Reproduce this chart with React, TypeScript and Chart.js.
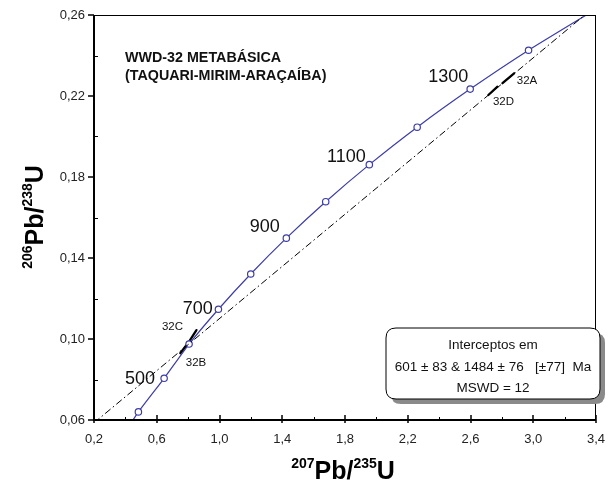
import { useEffect, useRef } from 'react';
import { Chart, registerables } from 'chart.js';
Chart.register(...registerables);

// Concordia curve (ages in Ma)
const concordiaAges = [300, 400, 500, 600, 700, 800, 900, 1000, 1100, 1200, 1300, 1400, 1500];
const concordiaX = [0.347, 0.483, 0.647, 0.806, 0.993, 1.199, 1.426, 1.677, 1.955, 2.26, 2.598, 2.97, 3.381];
const concordiaY = [0.0476, 0.064, 0.0806, 0.0975, 0.1147, 0.1321, 0.1498, 0.1678, 0.1861, 0.2046, 0.2234, 0.2426, 0.262];
const concordiaMarked = [false, true, true, true, true, true, true, true, true, true, true, true, false];

// Discordia line
const discordiaX = [0.2, 3.4];
const discordiaY = [0.0586, 0.2646];

// Data error ellipses (drawn as long thin marks: start / end)
const sampleNames = ['32A', '32B', '32C', '32D'];
const sampleX1 = [2.804, 0.75, 0.8, 2.714];
const sampleY1 = [0.2263, 0.093, 0.098, 0.2205];
const sampleX2 = [2.878, 0.79, 0.853, 2.772];
const sampleY2 = [0.2312, 0.097, 0.1044, 0.2246];
const sampleLabelX = [2.96, 0.85, 0.70, 2.81];
const sampleLabelY = [0.2274, 0.088, 0.106, 0.217];

// Age labels
const ageLabels = ['500', '700', '900', '1100', '1300'];
const ageLabelX = [0.493, 0.862, 1.288, 1.809, 2.458];
const ageLabelY = [0.0802, 0.1148, 0.1553, 0.1899, 0.2294];

// Axis ticks
const xMajorTicks = [0.2, 0.6, 1.0, 1.4, 1.8, 2.2, 2.6, 3.0, 3.4];
const xMinorTicks = [0.4, 0.8, 1.2, 1.6, 2.0, 2.4, 2.8, 3.2];
const yMajorTicks = [0.06, 0.1, 0.14, 0.18, 0.22, 0.26];
const yMinorTicks = [0.08, 0.12, 0.16, 0.2, 0.24];

const titleLines = ['WWD-32 METABÁSICA', '(TAQUARI-MIRIM-ARAÇAÍBA)'];
const boxLines = ['Interceptos em', '601 ± 83 & 1484 ± 76   [±77]  Ma', 'MSWD = 12'];

const FONT = '"Liberation Sans", Arial, sans-serif';
const BLUE = '#3c3ca8';

const decorPlugin = {
  id: 'decor',
  afterDraw(chart: any) {
    const ctx = chart.ctx;
    const xs = chart.scales.x;
    const ys = chart.scales.y;
    const a = chart.chartArea;
    ctx.save();
    // borders
    ctx.strokeStyle = '#000';
    ctx.lineWidth = 1;
    ctx.beginPath();
    ctx.moveTo(a.left, a.top + 0.5);
    ctx.lineTo(a.right, a.top + 0.5);
    ctx.moveTo(a.right - 0.5, a.top);
    ctx.lineTo(a.right - 0.5, a.bottom);
    ctx.stroke();
    ctx.lineWidth = 2;
    ctx.beginPath();
    ctx.moveTo(a.left, a.top);
    ctx.lineTo(a.left, a.bottom);
    ctx.lineTo(a.right, a.bottom);
    ctx.stroke();
    // ticks
    ctx.lineWidth = 1.5;
    ctx.beginPath();
    xMajorTicks.forEach((v) => {
      const px = Math.round(xs.getPixelForValue(v));
      ctx.moveTo(px, a.bottom + 3);
      ctx.lineTo(px, a.bottom - 5);
    });
    yMajorTicks.forEach((v) => {
      const py = Math.round(ys.getPixelForValue(v));
      ctx.moveTo(a.left - 6, py);
      ctx.lineTo(a.left, py);
    });
    ctx.stroke();
    ctx.lineWidth = 1;
    ctx.beginPath();
    xMinorTicks.forEach((v) => {
      const px = Math.round(xs.getPixelForValue(v)) + 0.5;
      ctx.moveTo(px, a.bottom);
      ctx.lineTo(px, a.bottom - 3);
    });
    yMinorTicks.forEach((v) => {
      const py = Math.round(ys.getPixelForValue(v)) + 0.5;
      ctx.moveTo(a.left, py);
      ctx.lineTo(a.left + 4, py);
    });
    ctx.stroke();

    // age labels
    ctx.fillStyle = '#111';
    ctx.font = `18px ${FONT}`;
    ctx.textAlign = 'center';
    ctx.textBaseline = 'middle';
    ageLabels.forEach((t, i) => {
      ctx.fillText(t, xs.getPixelForValue(ageLabelX[i]), ys.getPixelForValue(ageLabelY[i]));
    });
    // sample labels
    ctx.font = `11.5px ${FONT}`;
    sampleNames.forEach((t, i) => {
      ctx.fillText(t, xs.getPixelForValue(sampleLabelX[i]), ys.getPixelForValue(sampleLabelY[i]));
    });
    // title
    ctx.font = `bold 14.3px ${FONT}`;
    ctx.textAlign = 'left';
    ctx.fillText(titleLines[0], 125, 58);
    ctx.fillText(titleLines[1], 125, 76);

    // legend box with shadow
    const bx = 386, by = 328, bw = 214, bh = 71, r = 10;
    const rr = (x: number, y: number) => {
      ctx.beginPath();
      ctx.moveTo(x + r, y);
      ctx.lineTo(x + bw - r, y);
      ctx.quadraticCurveTo(x + bw, y, x + bw, y + r);
      ctx.lineTo(x + bw, y + bh - r);
      ctx.quadraticCurveTo(x + bw, y + bh, x + bw - r, y + bh);
      ctx.lineTo(x + r, y + bh);
      ctx.quadraticCurveTo(x, y + bh, x, y + bh - r);
      ctx.lineTo(x, y + r);
      ctx.quadraticCurveTo(x, y, x + r, y);
      ctx.closePath();
    };
    ctx.fillStyle = '#8a8a8a';
    rr(bx + 5, by + 5);
    ctx.fill();
    ctx.fillStyle = '#fff';
    rr(bx, by);
    ctx.fill();
    ctx.strokeStyle = '#000';
    ctx.lineWidth = 1;
    ctx.stroke();
    ctx.fillStyle = '#111';
    ctx.font = `13.5px ${FONT}`;
    ctx.textAlign = 'center';
    ctx.fillText(boxLines[0], bx + bw / 2, 345);
    ctx.fillText(boxLines[1], bx + bw / 2, 367);
    ctx.fillText(boxLines[2], bx + bw / 2, 388);

    // axis titles with superscripts
    const drawSup = (parts: [string, boolean][], cx: number, cy: number) => {
      const big = `bold 25px ${FONT}`;
      const small = `bold 14px ${FONT}`;
      let w = 0;
      parts.forEach(([t, s]) => {
        ctx.font = s ? small : big;
        w += ctx.measureText(t).width;
      });
      let x = cx - w / 2;
      ctx.textAlign = 'left';
      ctx.textBaseline = 'alphabetic';
      parts.forEach(([t, s]) => {
        ctx.font = s ? small : big;
        ctx.fillText(t, x, s ? cy - 11 : cy);
        x += ctx.measureText(t).width;
      });
    };
    ctx.fillStyle = '#000';
    drawSup([['207', true], ['Pb/', false], ['235', true], ['U', false]], 343, 479);
    ctx.save();
    ctx.translate(43, 217);
    ctx.rotate(-Math.PI / 2);
    drawSup([['206', true], ['Pb/', false], ['238', true], ['U', false]], 0, 0);
    ctx.restore();
    ctx.restore();
  },
};

export default function App() {
  const ref = useRef<HTMLCanvasElement>(null);
  useEffect(() => {
    const datasets: any[] = [
      {
        data: discordiaX.map((x, i) => ({ x, y: discordiaY[i] })),
        borderColor: '#000',
        borderWidth: 1,
        borderDash: [7, 3, 1.5, 3],
        pointRadius: 0,
        showLine: true,
      },
      {
        data: concordiaX.map((x, i) => ({ x, y: concordiaY[i] })),
        borderColor: BLUE,
        borderWidth: 1.2,
        pointRadius: concordiaMarked.map((m) => (m ? 3.2 : 0)),
        pointBackgroundColor: '#fff',
        pointBorderColor: BLUE,
        pointBorderWidth: 1.2,
        showLine: true,
        tension: 0.2,
        label: concordiaAges.join(','),
      },
    ];
    sampleNames.forEach((n, i) => {
      datasets.push({
        label: n,
        data: [
          { x: sampleX1[i], y: sampleY1[i] },
          { x: sampleX2[i], y: sampleY2[i] },
        ],
        borderColor: '#000',
        borderWidth: 2.3,
        borderCapStyle: 'round',
        pointRadius: 0,
        showLine: true,
      });
    });
    const chart = new Chart(ref.current!, {
      type: 'scatter',
      data: { datasets },
      options: {
        animation: false,
        responsive: false,
        layout: { padding: { left: 0, top: 15, right: 12, bottom: 0 } },
        plugins: { legend: { display: false }, tooltip: { enabled: false } },
        scales: {
          x: {
            type: 'linear',
            min: 0.2,
            max: 3.4,
            afterBuildTicks: (s: any) => {
              s.ticks = xMajorTicks.map((value) => ({ value }));
            },
            afterFit: (s: any) => {
              s.height = 70;
              s.paddingLeft = 0;
              s.paddingRight = 0;
            },
            grid: { display: false, drawTicks: false },
            border: { display: false },
            ticks: {
              padding: 12,
              color: '#222',
              font: { family: FONT, size: 13 },
              maxRotation: 0,
              autoSkip: false,
              callback: (v: any) => Number(v).toFixed(1).replace('.', ','),
            },
          },
          y: {
            type: 'linear',
            min: 0.06,
            max: 0.26,
            afterBuildTicks: (s: any) => {
              s.ticks = yMajorTicks.map((value) => ({ value }));
            },
            afterFit: (s: any) => {
              s.width = 94;
              s.paddingTop = 0;
              s.paddingBottom = 0;
            },
            grid: { display: false, drawTicks: false },
            border: { display: false },
            ticks: {
              padding: 9,
              color: '#222',
              font: { family: FONT, size: 13 },
              autoSkip: false,
              callback: (v: any) => Number(v).toFixed(2).replace('.', ','),
            },
          },
        },
      },
      plugins: [decorPlugin],
    });
    return () => chart.destroy();
  }, []);
  return (
    <div style={{ position: 'fixed', left: 0, top: 0, width: 608, height: 490, background: '#fff' }}>
      <canvas ref={ref} width={608} height={490} />
    </div>
  );
}
